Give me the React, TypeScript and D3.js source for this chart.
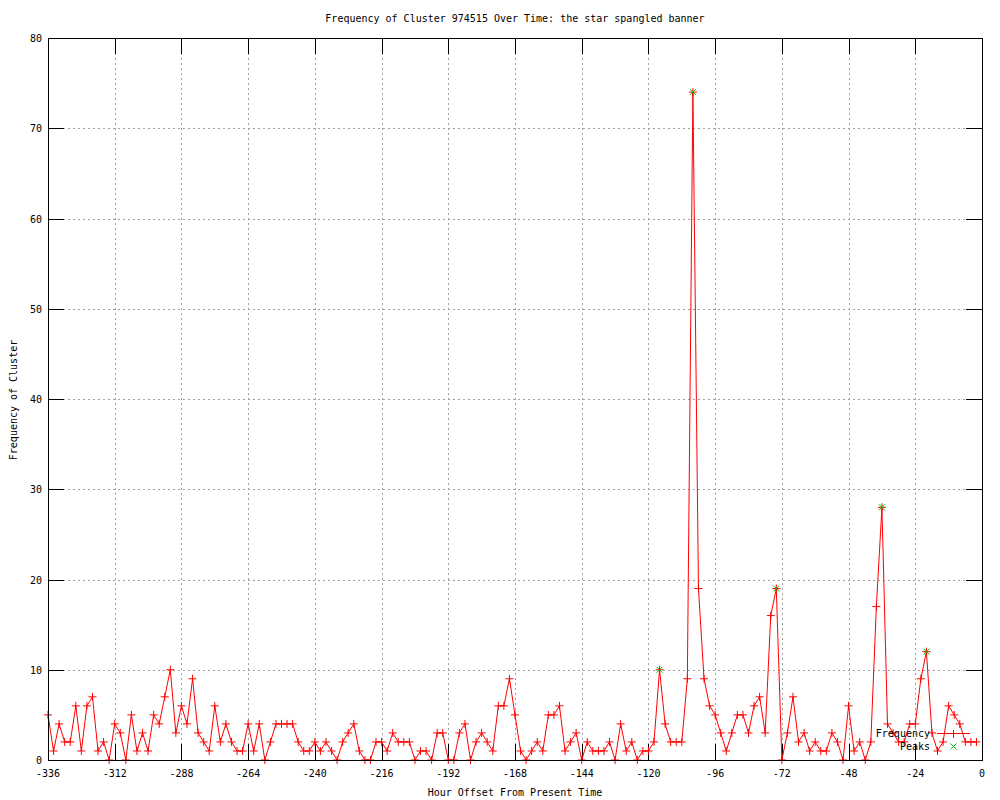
import React from "react";
import * as d3 from "d3";

const TITLE = "Frequency of Cluster 974515 Over Time: the star spangled banner";
const X_LABEL = "Hour Offset From Present Time";
const Y_LABEL = "Frequency of Cluster";

// hours: -336, -334, ..., -2 (every 2 hours)
const hours: number[] = d3.range(-336, 0, 2);

const frequency: number[] = [
  5, 1, 4, 2, 2, 6, 1, 6, 7, 1, 2, 0,
  4, 3, 0, 5, 1, 3, 1, 5, 4, 7, 10, 3,
  6, 4, 9, 3, 2, 1, 6, 2, 4, 2, 1, 1,
  4, 1, 4, 0, 2, 4, 4, 4, 4, 2, 1, 1,
  2, 1, 2, 1, 0, 2, 3, 4, 1, 0, 0, 2,
  2, 1, 3, 2, 2, 2, 0, 1, 1, 0, 3, 3,
  0, 0, 3, 4, 0, 2, 3, 2, 1, 6, 6, 9,
  5, 1, 0, 1, 2, 1, 5, 5, 6, 1, 2, 3,
  0, 2, 1, 1, 1, 2, 0, 4, 1, 2, 0, 1,
  1, 2, 10, 4, 2, 2, 2, 9, 74, 19, 9, 6,
  5, 3, 1, 3, 5, 5, 3, 6, 7, 3, 16, 19,
  0, 3, 7, 2, 3, 1, 2, 1, 1, 3, 2, 0,
  6, 1, 2, 0, 2, 17, 28, 4, 3, 2, 2, 4,
  4, 9, 12, 3, 1, 2, 6, 5, 4, 2, 2, 2,
];

const peakHours: number[] = [-116, -104, -74, -36, -20];
const peakValues: number[] = [10, 74, 19, 28, 12];

const xTicks: number[] = [-336, -312, -288, -264, -240, -216, -192, -168, -144, -120, -96, -72, -48, -24, 0];
const yTicks: number[] = [0, 10, 20, 30, 40, 50, 60, 70, 80];

const W = 1000;
const H = 800;
const L = 48;
const R = 982;
const T = 38;
const B = 760;
const FONT = "'DejaVu Sans Mono', monospace";
const TICK = 16;
const RED = "#ff0000";
const GREEN = "#00c000";

export default function App() {
  const x = d3.scaleLinear().domain([-336, 0]).range([L, R]);
  const y = d3.scaleLinear().domain([0, 80]).range([B, T]);
  const line = d3
    .line<number>()
    .x((_, i) => x(hours[i]))
    .y((d) => y(d));

  const plus = (cx: number, cy: number, s: number) =>
    `M${cx - s},${cy}H${cx + s}M${cx},${cy - s}V${cy + s}`;
  const cross = (cx: number, cy: number, s: number) =>
    `M${cx - s},${cy - s}L${cx + s},${cy + s}M${cx - s},${cy + s}L${cx + s},${cy - s}`;

  const legX = 930;
  const legY1 = 733;
  const legY2 = 746;

  return (
    <div style={{ position: "absolute", left: 0, top: 0, width: W, height: H, background: "#fff" }}>
      <svg width={W} height={H} style={{ display: "block" }} fontFamily={FONT} fontSize={10}>
        <rect x={0} y={0} width={W} height={H} fill="#fff" />
        {/* grid */}
        <g stroke="#a0a0a0" strokeWidth={1} strokeDasharray="2,3" shapeRendering="crispEdges">
          {xTicks
            .filter((t) => t !== -336 && t !== 0)
            .map((t) => (
              <line key={"gx" + t} x1={Math.round(x(t)) + 0.5} x2={Math.round(x(t)) + 0.5} y1={T} y2={B} />
            ))}
          {yTicks
            .filter((t) => t !== 0 && t !== 80)
            .map((t) => (
              <line key={"gy" + t} x1={L} x2={R} y1={Math.round(y(t)) + 0.5} y2={Math.round(y(t)) + 0.5} />
            ))}
        </g>
        {/* ticks */}
        <g stroke="#000" strokeWidth={1} shapeRendering="crispEdges">
          {xTicks.map((t) => (
            <g key={"tx" + t}>
              <line x1={Math.round(x(t)) + 0.5} x2={Math.round(x(t)) + 0.5} y1={B} y2={B - TICK} />
              <line x1={Math.round(x(t)) + 0.5} x2={Math.round(x(t)) + 0.5} y1={T} y2={T + TICK} />
            </g>
          ))}
          {yTicks.map((t) => (
            <g key={"ty" + t}>
              <line x1={L} x2={L + TICK} y1={Math.round(y(t)) + 0.5} y2={Math.round(y(t)) + 0.5} />
              <line x1={R} x2={R - TICK} y1={Math.round(y(t)) + 0.5} y2={Math.round(y(t)) + 0.5} />
            </g>
          ))}
        </g>
        {/* tick labels */}
        <g fill="#000">
          {xTicks.map((t) => (
            <text key={"lx" + t} x={x(t)} y={777} textAnchor="middle">
              {t}
            </text>
          ))}
          {yTicks.map((t) => (
            <text key={"ly" + t} x={42} y={y(t) + 4} textAnchor="end">
              {t}
            </text>
          ))}
        </g>
        {/* data line */}
        <path d={line(frequency) || ""} fill="none" stroke={RED} strokeWidth={1} />
        <g stroke={RED} strokeWidth={1} fill="none">
          {frequency.map((v, i) => (
            <path key={"m" + i} d={plus(x(hours[i]), y(v), 4)} />
          ))}
        </g>
        {/* peaks */}
        <g stroke={GREEN} strokeWidth={1} fill="none">
          {peakHours.map((h, i) => (
            <path key={"p" + i} d={cross(x(h), y(peakValues[i]), 3)} />
          ))}
        </g>
        {/* border */}
        <rect x={L + 0.5} y={T + 0.5} width={R - L} height={B - T} fill="none" stroke="#000" strokeWidth={1} shapeRendering="crispEdges" />
        {/* legend */}
        <text x={legX} y={legY1 + 4} textAnchor="end" fill="#000">
          Frequency
        </text>
        <g stroke={RED} strokeWidth={1} fill="none" shapeRendering="crispEdges">
          <line x1={937} x2={970} y1={legY1 + 0.5} y2={legY1 + 0.5} />
          <path d={plus(953.5, legY1 + 0.5, 4)} />
        </g>
        <text x={legX} y={legY2 + 4} textAnchor="end" fill="#000">
          Peaks
        </text>
        <path d={cross(953.5, legY2 + 0.5, 3)} stroke={GREEN} strokeWidth={1} fill="none" />
        {/* titles */}
        <text x={515} y={22} textAnchor="middle" fill="#000">
          {TITLE}
        </text>
        <text x={515} y={796} textAnchor="middle" fill="#000">
          {X_LABEL}
        </text>
        <text transform={`translate(17,400) rotate(-90)`} textAnchor="middle" fill="#000">
          {Y_LABEL}
        </text>
      </svg>
    </div>
  );
}
